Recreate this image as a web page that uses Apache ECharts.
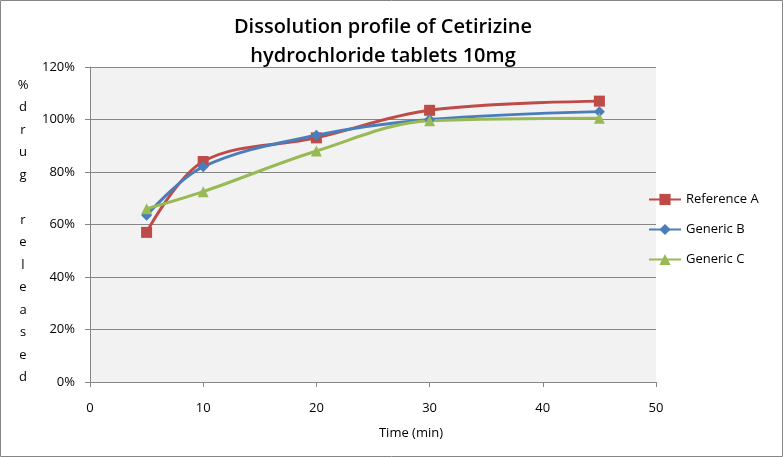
<!DOCTYPE html>
<html><head><meta charset="utf-8">
<script src="https://cdn.jsdelivr.net/npm/echarts@6/dist/echarts.min.js"></script>
<style>html,body{margin:0;padding:0;background:#fff}#c{width:783px;height:457px}</style>
</head><body><div id="c"></div>
<script>
const times = [5, 10, 20, 30, 45];
const referenceA = [0.57, 0.84, 0.93, 1.035, 1.07];
const genericB = [0.635, 0.82, 0.94, 1.0, 1.03];
const genericC = [0.66, 0.725, 0.88, 0.995, 1.005];
const seriesNames = ['Reference A', 'Generic B', 'Generic C'];
const titleText = 'Dissolution profile of Cetirizine\nhydrochloride tablets 10mg';
const yName = '%\nd\nr\nu\ng\n\nr\ne\nl\ne\na\ns\ne\nd';
const xName = 'Time (min)';

const font = '"Open Sans", Lato, sans-serif';
const chart = echarts.init(document.getElementById('c'));
const pair = arr => times.map((t, i) => [t, arr[i]]);
const mk = (name, data, color, symbol, size) => ({
  name, type: 'line', data: pair(data), smooth: 0.35,
  symbol, symbolSize: size, showSymbol: true,
  lineStyle: { color, width: 3 }, itemStyle: { color },
  emphasis: { disabled: true }
});
chart.setOption({
  animation: false,
  backgroundColor: '#fff',
  grid: { left: 90, right: 127, top: 67, bottom: 75, show: true, backgroundColor: '#f2f2f2', borderWidth: 0 },
  xAxis: {
    type: 'value', min: 0, max: 50, interval: 10,
    axisLine: { show: true, lineStyle: { color: '#868686' } },
    axisTick: { show: true, inside: false, length: 5, lineStyle: { color: '#868686' } },
    axisLabel: { color: '#000', fontFamily: font, fontSize: 13, margin: 20 },
    splitLine: { show: false }
  },
  yAxis: {
    type: 'value', min: 0, max: 1.2, interval: 0.2,
    axisLine: { show: true, lineStyle: { color: '#868686' } },
    axisTick: { show: true, inside: false, length: 5, lineStyle: { color: '#868686' } },
    axisLabel: { color: '#000', fontFamily: font, fontSize: 13, margin: 15,
      formatter: v => Math.round(v * 100) + '%' },
    splitLine: { show: true, lineStyle: { color: '#868686', width: 1 } }
  },
  legend: {
    orient: 'vertical', left: 643, top: 188, itemWidth: 32, itemHeight: 14, itemGap: 17,
    textStyle: { color: '#000', fontFamily: font, fontSize: 13 },
    data: seriesNames
  },
  graphic: [
    { type: 'rect', shape: { x: 0.5, y: 0.5, width: 782, height: 456 }, style: { fill: 'none', stroke: '#868686', lineWidth: 1 }, z: 100 },
    { type: 'text', style: { text: titleText, x: 383, y: 13, textAlign: 'center', font: '600 20px ' + font, fill: '#000', lineHeight: 29 } },
    { type: 'text', style: { text: yName, x: 23, y: 74, textAlign: 'center', font: '13px ' + font, fill: '#000', lineHeight: 22.5 } },
    { type: 'text', style: { text: xName, x: 411, y: 427, textAlign: 'center', font: '13px ' + font, fill: '#000' } }
  ],
  series: [
    mk(seriesNames[0], referenceA, '#be4b48', 'rect', 11),
    mk(seriesNames[1], genericB, '#4a7ebb', 'diamond', 11),
    mk(seriesNames[2], genericC, '#98b954', 'triangle', 11)
  ]
});
</script></body></html>
